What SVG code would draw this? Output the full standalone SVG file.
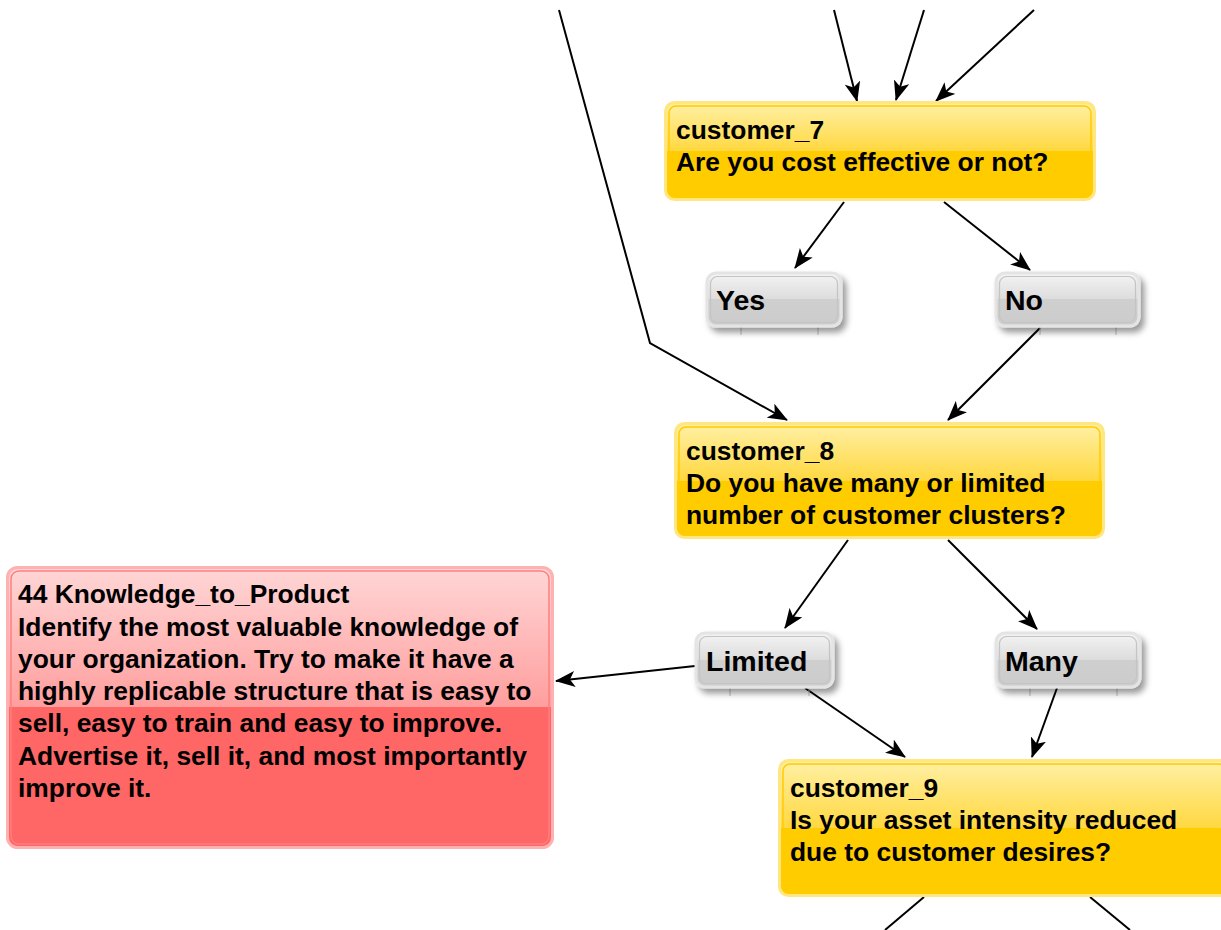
<svg xmlns="http://www.w3.org/2000/svg" width="1221" height="930" viewBox="0 0 1221 930">
<style>
text{font-family:"Liberation Sans",Arial,sans-serif;font-weight:bold;font-size:26.4px;fill:#000}
text.btn{font-size:28.5px}
.edge{stroke:#000;stroke-width:2;fill:none;marker-end:url(#ah)}
.edgeN{stroke:#000;stroke-width:2;fill:none}
.yo{fill:url(#gy);stroke:#FFE680;stroke-width:3}
.yi{fill:none;stroke:#FFCC00;stroke-width:1.5}
.go{fill:url(#gg);stroke:#E4E4E4;stroke-width:3}
.gi{fill:none;stroke:#C4C4C4;stroke-width:1.2}
.ro{fill:url(#gr);stroke:#FFB0B0;stroke-width:3}
.ri{fill:none;stroke:#FF7F7F;stroke-width:1.5}
.tick{stroke:#BDBDBD;stroke-width:1}
</style>
<defs>
<marker id="ah" viewBox="0 0 20 16" refX="19" refY="8" markerWidth="20" markerHeight="16" markerUnits="userSpaceOnUse" orient="auto">
<path d="M0,0 L20,8 L0,16 L5,8 Z" fill="#000"/>
</marker>
<linearGradient id="gy" x1="0" y1="0" x2="0" y2="1">
<stop offset="0" stop-color="#FFF0A6"/>
<stop offset="0.5" stop-color="#FFD840"/>
<stop offset="0.5" stop-color="#FFCC00"/>
<stop offset="1" stop-color="#FFCC00"/>
</linearGradient>
<linearGradient id="gg" x1="0" y1="0" x2="0" y2="1">
<stop offset="0" stop-color="#F4F4F4"/>
<stop offset="0.5" stop-color="#DCDCDC"/>
<stop offset="0.5" stop-color="#CFCFCF"/>
<stop offset="1" stop-color="#CCCCCC"/>
</linearGradient>
<linearGradient id="gr" x1="0" y1="0" x2="0" y2="1">
<stop offset="0" stop-color="#FFD6D6"/>
<stop offset="0.5" stop-color="#FF9E9E"/>
<stop offset="0.5" stop-color="#FF6666"/>
<stop offset="1" stop-color="#FF6666"/>
</linearGradient>
<filter id="sh" x="-20%" y="-30%" width="150%" height="170%">
<feDropShadow dx="4" dy="5" stdDeviation="3" flood-color="#000" flood-opacity="0.4"/>
</filter>
</defs>

<g id="connectors">
<polyline class="edge" points="559,10 650,343 787,420"/>
<line class="edge" x1="834" y1="10" x2="857" y2="101"/>
<line class="edge" x1="924" y1="10" x2="896" y2="100"/>
<line class="edge" x1="1034" y1="10" x2="936" y2="101"/>
<line class="edge" x1="844" y1="202" x2="795" y2="268"/>
<line class="edge" x1="944" y1="202" x2="1030" y2="270"/>
<line class="edge" x1="1040" y1="328" x2="948" y2="420"/>
<line class="edge" x1="848" y1="540" x2="785" y2="628"/>
<line class="edge" x1="948" y1="540" x2="1037" y2="629"/>
<line class="edge" x1="695" y1="666" x2="556" y2="681"/>
<line class="edge" x1="805" y1="688" x2="905" y2="757"/>
<line class="edge" x1="1057" y1="688" x2="1032" y2="757"/>
<line class="edgeN" x1="924" y1="897" x2="885" y2="930"/>
<line class="edgeN" x1="1090" y1="897" x2="1130" y2="930"/>
</g>

<g id="customer_7">
<rect class="yo" x="665.5" y="102.5" width="429" height="97" rx="9"/>
<rect class="yi" x="669" y="106" width="422" height="90" rx="7"/>
<text x="676" y="139">customer_7</text>
<text x="676" y="171">Are you cost effective or not?</text>
</g>

<g id="yes">
<line class="tick" x1="741" y1="327" x2="741" y2="335"/>
<line class="tick" x1="818" y1="327" x2="818" y2="335"/>
<rect class="go" x="707" y="273" width="134" height="53" rx="9" filter="url(#sh)"/>
<rect class="gi" x="710.5" y="276.5" width="127" height="46" rx="7"/>
<text class="btn" x="716" y="310">Yes</text>
</g>

<g id="no">
<line class="tick" x1="1040" y1="327" x2="1040" y2="335"/>
<line class="tick" x1="1116" y1="327" x2="1116" y2="335"/>
<rect class="go" x="996" y="273" width="143" height="53" rx="9" filter="url(#sh)"/>
<rect class="gi" x="999.5" y="276.5" width="136" height="46" rx="7"/>
<text class="btn" x="1005" y="310">No</text>
</g>

<g id="customer_8">
<rect class="yo" x="675.5" y="423.5" width="428" height="114" rx="9"/>
<rect class="yi" x="679" y="427" width="421" height="107" rx="7"/>
<text x="686" y="460">customer_8</text>
<text x="686" y="492">Do you have many or limited</text>
<text x="686" y="524">number of customer clusters?</text>
</g>

<g id="knowledge_to_product">
<rect class="ro" x="7.5" y="567.5" width="545" height="280" rx="10"/>
<rect class="ri" x="11" y="571" width="538" height="273" rx="8"/>
<text x="18" y="603">44 Knowledge_to_Product</text>
<text x="18" y="636">Identify the most valuable knowledge of</text>
<text x="18" y="668">your organization. Try to make it have a</text>
<text x="18" y="700">highly replicable structure that is easy to</text>
<text x="18" y="732">sell, easy to train and easy to improve.</text>
<text x="18" y="765">Advertise it, sell it, and most importantly</text>
<text x="18" y="797">improve it.</text>
</g>

<g id="limited">
<line class="tick" x1="730" y1="688" x2="730" y2="696"/>
<line class="tick" x1="809" y1="688" x2="809" y2="696"/>
<rect class="go" x="696" y="633" width="137" height="54" rx="9" filter="url(#sh)"/>
<rect class="gi" x="699.5" y="636.5" width="130" height="47" rx="7"/>
<text class="btn" x="706" y="671">Limited</text>
</g>

<g id="many">
<line class="tick" x1="1030" y1="688" x2="1030" y2="696"/>
<line class="tick" x1="1117" y1="688" x2="1117" y2="696"/>
<rect class="go" x="996" y="633" width="144" height="54" rx="9" filter="url(#sh)"/>
<rect class="gi" x="999.5" y="636.5" width="137" height="47" rx="7"/>
<text class="btn" x="1005" y="671">Many</text>
</g>

<g id="customer_9">
<rect class="yo" x="779.5" y="760.5" width="450" height="135" rx="9"/>
<rect class="yi" x="783" y="764" width="443" height="128" rx="7"/>
<text x="790" y="797">customer_9</text>
<text x="790" y="829">Is your asset intensity reduced</text>
<text x="790" y="861">due to customer desires?</text>
</g>
</svg>
